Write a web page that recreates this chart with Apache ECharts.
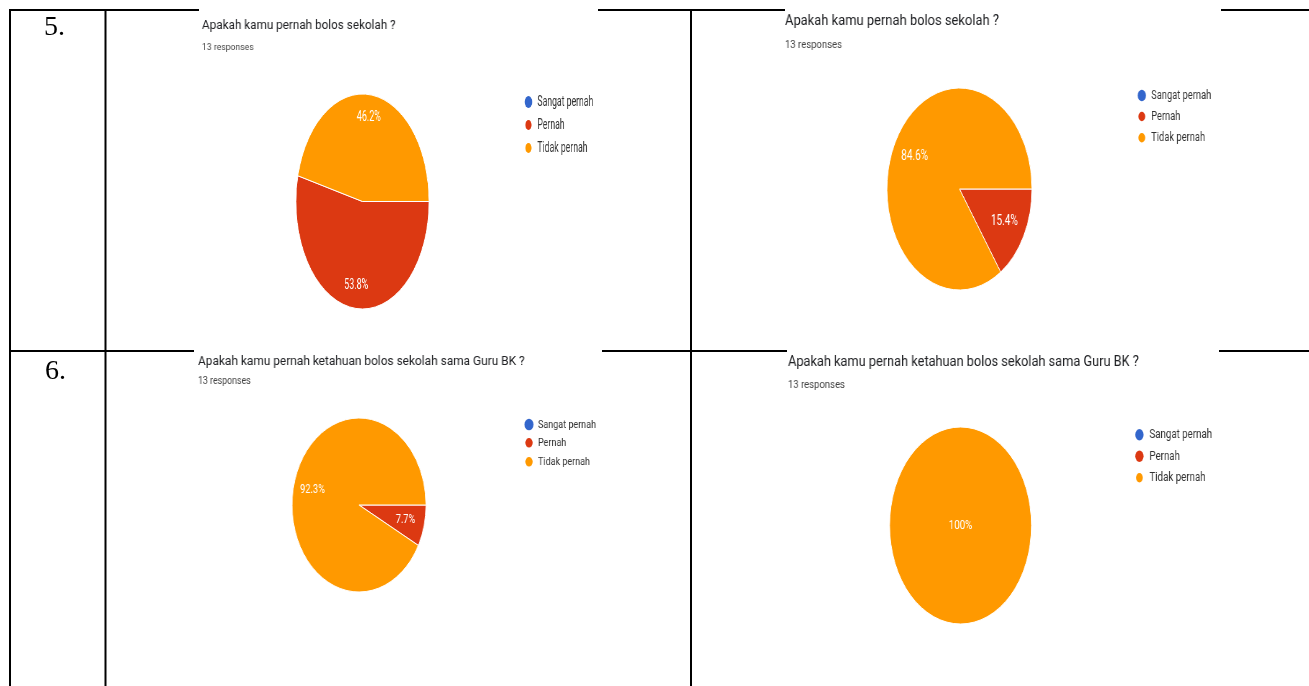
<!DOCTYPE html>
<html><head><meta charset="utf-8">
<script src="https://cdn.jsdelivr.net/npm/echarts@6/dist/echarts.min.js"></script>
<style>
html,body{margin:0;padding:0;background:#fff;width:1309px;height:686px;overflow:hidden;position:relative}
.layer{position:absolute;transform-origin:0 0}
</style></head><body>
<div id="base" class="layer" style="left:0;top:0;width:1309px;height:686px"></div>
<div id="titles" class="layer"></div>
<div id="p1" class="layer"></div>
<div id="p2" class="layer"></div>
<div id="p3" class="layer"></div>
<div id="p4" class="layer"></div>
<script>
// ---- data ----
const categories = ['Sangat pernah', 'Pernah', 'Tidak pernah'];
const q5Before = [0, 7, 6];
const q5After = [0, 2, 11];
const q6Before = [0, 1, 12];
const q6After = [0, 0, 13];
const questionTitles = ['Apakah kamu pernah bolos sekolah ?', 'Apakah kamu pernah ketahuan bolos sekolah sama Guru BK ?'];
const responseText = '13 responses';
const rowNumbers = ['5.', '6.'];

// ---- style ----
const colors = ['#3366cc', '#dc3912', '#ff9900'];
const FONT = 'Roboto, "Noto Sans", sans-serif';

// ---- base layer: table lines and row numbers ----
const base = echarts.init(document.getElementById('base'), null, {renderer: 'canvas'});
const hLines = [[10, 9, 199], [10, 598, 785], [10, 1221, 1309], [351, 9, 194], [351, 602, 787], [351, 1219, 1309]];
const vLines = [[10, 9, 686], [105.5, 9, 686], [691, 9, 686]];
const baseGraphics = [];
hLines.forEach(l => baseGraphics.push({type: 'line', shape: {x1: l[1], y1: l[0], x2: l[2], y2: l[0]}, style: {stroke: '#000', lineWidth: 2}}));
vLines.forEach(l => baseGraphics.push({type: 'line', shape: {x1: l[0], y1: l[1], x2: l[0], y2: l[2]}, style: {stroke: '#000', lineWidth: 2}}));
const numPos = [[44, 27.8], [45, 372]];
rowNumbers.forEach((t, i) => baseGraphics.push({type: 'text', x: numPos[i][0], y: numPos[i][1],
  style: {text: t, font: '28px "Liberation Serif", "Times New Roman", serif', fill: '#000', verticalAlign: 'middle', align: 'left'}}));
base.setOption({animation: false, graphic: baseGraphics});

// ---- titles layer (slightly condensed like the screenshot) ----
const TS = 0.88;
const tdiv = document.getElementById('titles');
tdiv.style.left = '0px'; tdiv.style.top = '0px';
tdiv.style.width = (1309 / TS) + 'px'; tdiv.style.height = '686px';
tdiv.style.transform = 'scaleX(' + TS + ')';
const titles = echarts.init(tdiv);
const titleSpecs = [
  {q: 0, x: 202, y: 25.3, f: 13.3, ry: 47.5, rf: 9.8},
  {q: 0, x: 785, y: 21.7, f: 14.7, ry: 45, rf: 10.8},
  {q: 1, x: 198, y: 361.7, f: 13.5, ry: 381.5, rf: 10},
  {q: 1, x: 788, y: 362.5, f: 14.5, ry: 385, rf: 10.8}
];
const tg = [];
titleSpecs.forEach(s => {
  tg.push({type: 'text', x: s.x / TS, y: s.y, style: {text: questionTitles[s.q], font: s.f + 'px ' + FONT, fill: '#202124', verticalAlign: 'middle'}});
  tg.push({type: 'text', x: s.x / TS, y: s.ry, style: {text: responseText, font: s.rf + 'px ' + FONT, fill: '#444', verticalAlign: 'middle'}});
});
titles.setOption({animation: false, graphic: tg});

// ---- pie panels ----
const panels = [
  {id: 'p1', values: q5Before, left: 200, top: 60, sx: 0.619, w: 792, h: 280, cx: 262.5, cy: 141.5, r: 107.5, r0: 56, lf: 14.5, pos: 'inside',
   legLeft: 523.6, legTop: 35, gap: 9, iw: 19, ih: 12, legF: 14},
  {id: 'p2', values: q5After, left: 785, top: 55, sx: 0.718, w: 730, h: 290, cx: 243, cy: 134, r: 101, r0: 34, lf: 14, pos: 'inside',
   legLeft: 490.2, legTop: 34, gap: 7.75, iw: 16, ih: 11.5, legF: 13},
  {id: 'p3', values: q6Before, left: 194, top: 400, sx: 0.77, w: 644, h: 280, cx: 214.3, cy: 105, r: 87, r0: 31.3, lf: 12, pos: 'inside',
   legLeft: 428.3, legTop: 18.6, gap: 5.5, iw: 13.4, ih: 11.5, legF: 11.7},
  {id: 'p4', values: q6After, left: 786, top: 400, sx: 0.72, w: 726, h: 286, cx: 242.4, cy: 125.5, r: 98.5, r0: 0, lf: 13.5, pos: 'center',
   legLeft: 484.1, legTop: 27.75, gap: 7.5, iw: 17.8, ih: 11.5, legF: 13.5}
];

panels.forEach(p => {
  const div = document.getElementById(p.id);
  div.style.left = p.left + 'px'; div.style.top = p.top + 'px';
  div.style.width = p.w + 'px'; div.style.height = p.h + 'px';
  div.style.transform = 'scaleX(' + p.sx + ')';
  const chart = echarts.init(div);
  const data = categories.map((c, i) => ({
    name: c, value: p.values[i],
    itemStyle: {color: colors[i], borderColor: '#fff', borderWidth: p.values[i] > 0 ? 1 : 0}
  }));
  const labelData = categories.map((c, i) => ({name: c, value: p.values[i]}));
  chart.setOption({
    animation: false,
    legend: {
      orient: 'vertical', left: p.legLeft, top: p.legTop, padding: 0,
      itemGap: p.gap, itemWidth: p.iw, itemHeight: p.ih,
      icon: 'path://M50 0A50 50 0 1 1 50 100A50 50 0 1 1 50 0Z',
      symbolKeepAspect: true,
      selectedMode: false,
      data: categories.map((c, i) => ({name: c, itemStyle: {color: colors[i]}})),
      textStyle: {fontFamily: FONT, fontSize: p.legF, color: '#333'}
    },
    series: [
      {
        type: 'pie', center: [p.cx, p.cy], radius: [0, p.r], startAngle: 0, clockwise: true,
        data: data, label: {show: false}, labelLine: {show: false}, silent: true,
        emphasis: {disabled: true}, avoidLabelOverlap: false, percentPrecision: 1
      },
      {
        type: 'pie', center: [p.cx, p.cy], radius: [p.r0, p.r], startAngle: 0, clockwise: true,
        data: labelData, silent: true, emphasis: {disabled: true}, avoidLabelOverlap: false, percentPrecision: 1,
        itemStyle: {color: 'rgba(0,0,0,0)', borderWidth: 0},
        labelLine: {show: false},
        label: {
          show: true, position: p.pos, color: '#fff', fontFamily: FONT, fontSize: p.lf,
          formatter: prm => prm.value > 0 ? prm.percent + '%' : ''
        }
      }
    ]
  });
});
</script>
</body></html>
